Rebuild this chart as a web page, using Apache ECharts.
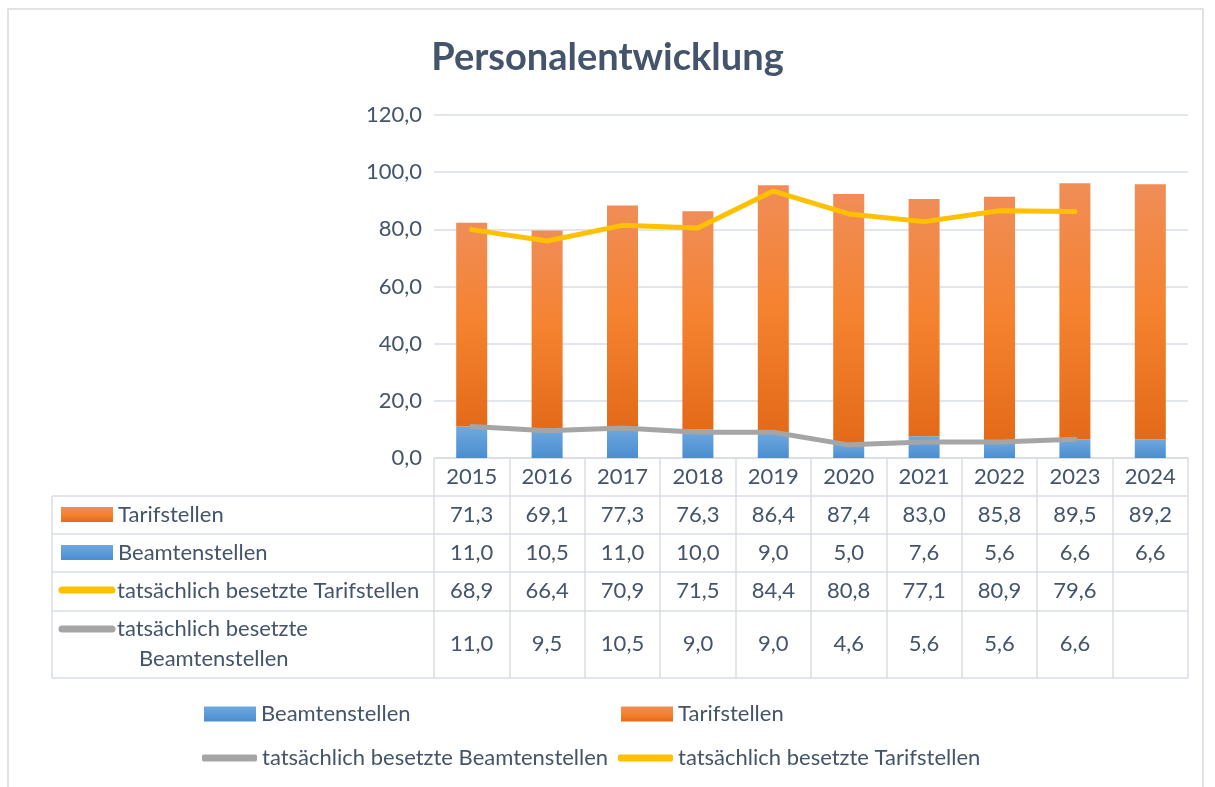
<!DOCTYPE html>
<html>
<head>
<meta charset="utf-8">
<script src="https://cdn.jsdelivr.net/npm/echarts@6/dist/echarts.min.js"></script>
<style>
  html, body { margin: 0; padding: 0; background: #fff; }
  #main { width: 1215px; height: 787px; }
</style>
</head>
<body>
<div id="main"></div>
<script>
// Daten
const years = ['2015', '2016', '2017', '2018', '2019', '2020', '2021', '2022', '2023', '2024'];
const tarifstellen = [71.3, 69.1, 77.3, 76.3, 86.4, 87.4, 83.0, 85.8, 89.5, 89.2];
const beamtenstellen = [11.0, 10.5, 11.0, 10.0, 9.0, 5.0, 7.6, 5.6, 6.6, 6.6];
const besetztTarif = [68.9, 66.4, 70.9, 71.5, 84.4, 80.8, 77.1, 80.9, 79.6, null];
const besetztBeamte = [11.0, 9.5, 10.5, 9.0, 9.0, 4.6, 5.6, 5.6, 6.6, null];

const txt = '#44546a';
const border = '#d9dde4';
const font = 'Lato, "Open Sans", sans-serif';
const fs = 22;

const orange = () => new echarts.graphic.LinearGradient(0, 0, 0, 1, [
  { offset: 0, color: '#f08d57' },
  { offset: 0.5, color: '#f5822f' },
  { offset: 1, color: '#e36a18' }
]);
const blue = () => new echarts.graphic.LinearGradient(0, 0, 0, 1, [
  { offset: 0, color: '#6fa8df' },
  { offset: 1, color: '#4a8ed0' }
]);

function fmt(v) {
  return v == null ? '' : v.toFixed(1).replace('.', ',');
}

var chart = echarts.init(document.getElementById('main'));
var legendText = { color: txt, fontSize: fs };
var option = {
  animation: false,
  textStyle: { fontFamily: font },
  title: {
    text: 'Personalentwicklung',
    left: 'center',
    top: 34,
    textStyle: { color: txt, fontSize: 38, fontWeight: 'bold', fontFamily: font }
  },
  legend: [
    { data: ['Beamtenstellen'], left: 204, top: 703, padding: 0, icon: 'rect', itemWidth: 52, itemHeight: 15,
      textStyle: legendText },
    { data: ['Tarifstellen'], left: 621, top: 703, padding: 0, icon: 'rect', itemWidth: 52, itemHeight: 15,
      textStyle: legendText },
    { data: ['tatsächlich besetzte Beamtenstellen'], left: 202, top: 747, padding: 0, icon: 'roundRect', itemWidth: 55, itemHeight: 7,
      textStyle: legendText },
    { data: ['tatsächlich besetzte Tarifstellen'], left: 618, top: 747, padding: 0, icon: 'roundRect', itemWidth: 55, itemHeight: 7,
      textStyle: legendText }
  ],
  grid: { left: 434, right: 27, top: 115, bottom: 329 },
  xAxis: {
    type: 'category',
    data: years,
    axisLine: { lineStyle: { color: border, width: 1.5 } },
    axisTick: { show: true, length: 220, lineStyle: { color: border, width: 1.5 } },
    axisLabel: { color: txt, fontSize: fs, margin: 8 }
  },
  yAxis: {
    type: 'value',
    min: 0,
    max: 120,
    interval: 20,
    axisLine: { show: false },
    axisTick: { show: false },
    splitLine: { lineStyle: { color: border, width: 1.5 } },
    axisLabel: { color: txt, fontSize: fs, margin: 12, formatter: fmt }
  },
  series: [
    {
      name: 'Beamtenstellen', type: 'bar', stack: 'soll', barWidth: 31,
      itemStyle: { color: blue() }, data: beamtenstellen
    },
    {
      name: 'Tarifstellen', type: 'bar', stack: 'soll', barWidth: 31,
      itemStyle: { color: orange() }, data: tarifstellen
    },
    {
      name: 'tatsächlich besetzte Beamtenstellen', type: 'line', stack: 'ist',
      symbol: 'none', z: 5,
      itemStyle: { color: '#a5a5a5' },
      lineStyle: { color: '#a5a5a5', width: 5, cap: 'round' },
      data: besetztBeamte
    },
    {
      name: 'tatsächlich besetzte Tarifstellen', type: 'line', stack: 'ist',
      symbol: 'none', z: 6,
      itemStyle: { color: '#ffc000' },
      lineStyle: { color: '#ffc000', width: 5, cap: 'round' },
      data: besetztTarif
    }
  ]
};
chart.setOption(option);

// Datentabelle unter dem Diagramm
const rowLines = [496, 534, 572, 611, 678];
const rows = [
  { values: tarifstellen, y: 515 },
  { values: beamtenstellen, y: 553 },
  { values: besetztTarif, y: 591 },
  { values: besetztBeamte, y: 644 }
];
var g = [];
g.push({ type: 'rect', shape: { x: 8, y: 9, width: 1195, height: 800 }, silent: true,
  style: { fill: 'none', stroke: '#d9d9d9', lineWidth: 1.5 } });
rowLines.forEach(function (y) {
  g.push({ type: 'line', shape: { x1: 52, y1: y, x2: 1188, y2: y }, style: { stroke: border, lineWidth: 1.5 } });
});
g.push({ type: 'line', shape: { x1: 52, y1: 496, x2: 52, y2: 678 }, style: { stroke: border, lineWidth: 1.5 } });

rows.forEach(function (r) {
  r.values.forEach(function (v, i) {
    var x = chart.convertToPixel({ xAxisIndex: 0 }, years[i]);
    g.push({ type: 'text', x: x, y: r.y, style: { text: fmt(v), fill: txt, font: fs + 'px ' + font,
      align: 'center', verticalAlign: 'middle' } });
  });
});

// Zeilenbeschriftungen mit Legendensymbolen
g.push({ type: 'rect', shape: { x: 61, y: 507, width: 52, height: 15 }, style: { fill: orange() } });
g.push({ type: 'rect', shape: { x: 61, y: 545, width: 52, height: 15 }, style: { fill: blue() } });
g.push({ type: 'line', shape: { x1: 62, y1: 590, x2: 112, y2: 590 }, style: { stroke: '#ffc000', lineWidth: 7, lineCap: 'round' } });
g.push({ type: 'line', shape: { x1: 62, y1: 629, x2: 112, y2: 629 }, style: { stroke: '#a5a5a5', lineWidth: 7, lineCap: 'round' } });
const labels = [
  ['Tarifstellen', 118, 515],
  ['Beamtenstellen', 118, 553],
  ['tatsächlich besetzte Tarifstellen', 117, 591],
  ['tatsächlich besetzte', 117, 629],
  ['Beamtenstellen', 139, 659]
];
labels.forEach(function (l) {
  g.push({ type: 'text', x: l[1], y: l[2], style: { text: l[0], fill: txt, font: fs + 'px ' + font,
    align: 'left', verticalAlign: 'middle' } });
});

chart.setOption({ graphic: g });
</script>
</body>
</html>
